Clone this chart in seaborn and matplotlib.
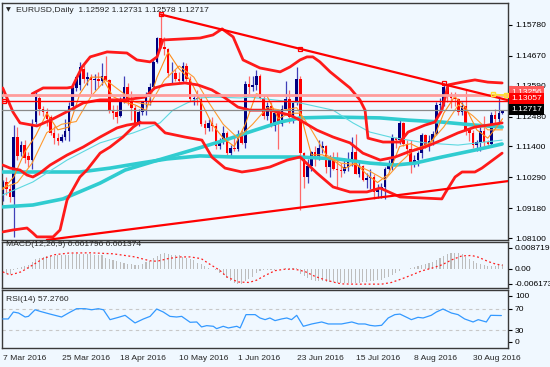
import matplotlib
matplotlib.use('Agg')
import matplotlib.pyplot as plt
import seaborn as sns

# bar 0 = 7 Mar 2016, one bar per trading day
tick_bars = [0, 16, 32, 48, 64, 80, 96, 112, 128]
tick_dates = ['7 Mar 2016', '25 Mar 2016', '18 Apr 2016', '10 May 2016', '1 Jun 2016',
              '23 Jun 2016', '15 Jul 2016', '8 Aug 2016', '30 Aug 2016']

opens = [1.0965, 1.1012, 1.0985, 1.0958, 1.1175, 1.1120, 1.1145, 1.1105, 1.1090, 1.1230,
         1.1315, 1.1275, 1.1265, 1.1245, 1.1190, 1.1170, 1.1160, 1.1175, 1.1195, 1.1285,
         1.1350, 1.1360, 1.1420, 1.1385, 1.1390, 1.1380, 1.1385, 1.1375, 1.1395, 1.1380,
         1.1270, 1.1265, 1.1250, 1.1305, 1.1355, 1.1300, 1.1280, 1.1225, 1.1265, 1.1300,
         1.1320, 1.1355, 1.1445, 1.1530, 1.1500, 1.1490, 1.1405, 1.1405, 1.1385, 1.1375,
         1.1430, 1.1385, 1.1310, 1.1315, 1.1312, 1.1220, 1.1205, 1.1225, 1.1215, 1.1140,
         1.1155, 1.1190, 1.1115, 1.1135, 1.1130, 1.1185, 1.1152, 1.1365, 1.1355, 1.1360,
         1.1395, 1.1315, 1.1250, 1.1285, 1.1215, 1.1260, 1.1220, 1.1275, 1.1310, 1.1245,
         1.1295, 1.1385, 1.1115, 1.1030, 1.1070, 1.1120, 1.1105, 1.1135, 1.1140, 1.1065,
         1.1095, 1.1060, 1.1055, 1.1052, 1.1065, 1.1090, 1.1120, 1.1040, 1.1070, 1.1020,
         1.1025, 1.1030, 1.0975, 1.0990, 1.0995, 1.1060, 1.1075, 1.1170, 1.1165, 1.1225,
         1.1150, 1.1130, 1.1085, 1.1090, 1.1115, 1.1180, 1.1140, 1.1160, 1.1185, 1.1290,
         1.1292, 1.1355, 1.1325, 1.1315, 1.1310, 1.1265, 1.1285, 1.1200, 1.1190, 1.1145,
         1.1155, 1.1195, 1.1155, 1.1150, 1.1255, 1.1240, 1.12592]
highs = [1.1020, 1.1030, 1.1005, 1.1218, 1.1210, 1.1160, 1.1165, 1.1120, 1.1240, 1.1345,
         1.1330, 1.1285, 1.1280, 1.1255, 1.1215, 1.1190, 1.1185, 1.1240, 1.1300, 1.1360,
         1.1395, 1.1445, 1.1440, 1.1410, 1.1400, 1.1400, 1.1410, 1.1440, 1.1465, 1.1385,
         1.1290, 1.1290, 1.1320, 1.1395, 1.1370, 1.1340, 1.1290, 1.1275, 1.1305, 1.1335,
         1.1370, 1.1455, 1.1535, 1.1616, 1.1535, 1.1495, 1.1445, 1.1420, 1.1410, 1.1445,
         1.1440, 1.1395, 1.1330, 1.1345, 1.1320, 1.1235, 1.1240, 1.1245, 1.1225, 1.1170,
         1.1215, 1.1195, 1.1145, 1.1175, 1.1200, 1.1200, 1.1375, 1.1395, 1.1395, 1.1416,
         1.1400, 1.1325, 1.1300, 1.1300, 1.1275, 1.1275, 1.1290, 1.1375, 1.1345, 1.1300,
         1.1428, 1.1395, 1.1120, 1.1095, 1.1125, 1.1140, 1.1165, 1.1160, 1.1145, 1.1110,
         1.1120, 1.1120, 1.1080, 1.1100, 1.1120, 1.1175, 1.1185, 1.1090, 1.1075, 1.1045,
         1.1060, 1.1040, 1.1005, 1.1010, 1.1065, 1.1090, 1.1185, 1.1175, 1.1235, 1.1230,
         1.1165, 1.1165, 1.1110, 1.1125, 1.1190, 1.1185, 1.1180, 1.1195, 1.1300, 1.1315,
         1.1368, 1.1365, 1.1335, 1.1335, 1.1315, 1.1300, 1.1342, 1.1205, 1.1200, 1.1165,
         1.1210, 1.1250, 1.1165, 1.1265, 1.1275, 1.1327, 1.12731]
lows = [1.0945, 1.0965, 1.0940, 1.0815, 1.1090, 1.1105, 1.1080, 1.1065, 1.1060, 1.1220,
        1.1255, 1.1250, 1.1215, 1.1180, 1.1150, 1.1145, 1.1155, 1.1165, 1.1160, 1.1270,
        1.1340, 1.1345, 1.1370, 1.1360, 1.1330, 1.1345, 1.1350, 1.1360, 1.1375, 1.1260,
        1.1240, 1.1225, 1.1245, 1.1295, 1.1290, 1.1235, 1.1215, 1.1215, 1.1255, 1.1255,
        1.1290, 1.1350, 1.1440, 1.1495, 1.1470, 1.1390, 1.1370, 1.1375, 1.1370, 1.1370,
        1.1375, 1.1305, 1.1290, 1.1290, 1.1215, 1.1185, 1.1195, 1.1195, 1.1130, 1.1130,
        1.1150, 1.1110, 1.1105, 1.1125, 1.1125, 1.1150, 1.1135, 1.1330, 1.1340, 1.1345,
        1.1310, 1.1240, 1.1235, 1.1210, 1.1195, 1.1130, 1.1215, 1.1270, 1.1225, 1.1225,
        1.1290, 1.0912, 1.0990, 1.1010, 1.1050, 1.1070, 1.1090, 1.1115, 1.1045, 1.1030,
        1.1055, 1.0995, 1.1030, 1.1045, 1.1050, 1.1070, 1.1040, 1.1030, 1.1015, 1.0990,
        1.0985, 1.0950, 1.0955, 1.0955, 1.0950, 1.1055, 1.1055, 1.1135, 1.1150, 1.1140,
        1.1110, 1.1045, 1.1065, 1.1070, 1.1100, 1.1135, 1.1125, 1.1145, 1.1180, 1.1260,
        1.1285, 1.1300, 1.1280, 1.1285, 1.1255, 1.1255, 1.1180, 1.1160, 1.1135, 1.1125,
        1.1125, 1.1140, 1.1135, 1.1145, 1.1215, 1.1220, 1.12578]
closes = [1.1012, 1.0985, 1.0958, 1.1175, 1.1105, 1.1145, 1.1100, 1.1090, 1.1220, 1.1320,
          1.1275, 1.1265, 1.1240, 1.1190, 1.1170, 1.1160, 1.1175, 1.1195, 1.1285, 1.1350,
          1.1390, 1.1425, 1.1385, 1.1392, 1.1380, 1.1385, 1.1375, 1.1395, 1.1380, 1.1270,
          1.1262, 1.1245, 1.1305, 1.1355, 1.1300, 1.1280, 1.1225, 1.1265, 1.1300, 1.1320,
          1.1355, 1.1445, 1.1530, 1.1500, 1.1490, 1.1405, 1.1405, 1.1385, 1.1375, 1.1430,
          1.1385, 1.1310, 1.1315, 1.1312, 1.1220, 1.1205, 1.1225, 1.1215, 1.1140, 1.1155,
          1.1190, 1.1115, 1.1135, 1.1130, 1.1185, 1.1152, 1.1365, 1.1355, 1.1360, 1.1395,
          1.1315, 1.1250, 1.1285, 1.1215, 1.1260, 1.1220, 1.1275, 1.1310, 1.1245, 1.1295,
          1.1385, 1.1115, 1.1030, 1.1070, 1.1120, 1.1105, 1.1135, 1.1140, 1.1065, 1.1095,
          1.1060, 1.1055, 1.1052, 1.1065, 1.1090, 1.1120, 1.1040, 1.1070, 1.1020, 1.1025,
          1.1030, 1.0975, 1.0990, 1.0995, 1.1060, 1.1075, 1.1170, 1.1165, 1.1225, 1.1150,
          1.1130, 1.1085, 1.1090, 1.1115, 1.1180, 1.1140, 1.1160, 1.1185, 1.1290, 1.1292,
          1.1355, 1.1325, 1.1315, 1.1310, 1.1265, 1.1285, 1.1200, 1.1190, 1.1145, 1.1155,
          1.1195, 1.1155, 1.1150, 1.1255, 1.1240, 1.1260, 1.12717]

# Bollinger style bands (thick red), traced as (bar, price)
upper_bars = [8, 11, 17.5, 18.9, 21.6, 23.8, 28.4, 33.8, 36.5, 40.1, 42.0, 43.6, 53.7, 57.2,
              59.7, 62.7, 65.4, 70.0, 75.5, 78.2, 80.9, 82.8, 84.4, 86.3, 89.1, 91.8, 94.5,
              97.2, 98.6, 99.4, 103.5, 108.1, 110.3, 114.9, 117.6, 119.5, 120.4, 121.2,
              125.0, 128.5, 132.0, 135.9]
upper_vals = [1.1330, 1.1351, 1.1351, 1.1354, 1.1427, 1.1463, 1.1481, 1.1477, 1.1452, 1.1445,
              1.1463, 1.1524, 1.1531, 1.1542, 1.1564, 1.1535, 1.1452, 1.1423, 1.1409, 1.1427,
              1.1452, 1.1463, 1.1463, 1.1445, 1.1409, 1.1380, 1.1351, 1.1308, 1.1271, 1.1170,
              1.1156, 1.1156, 1.1192, 1.1217, 1.1228, 1.1271, 1.1318, 1.1362, 1.1372, 1.1380,
              1.1372, 1.1369]
mid_bars = [0, 2.8, 4.7, 9.3, 13.0, 18.3, 21.9, 26.5, 33.3, 38.7, 41.4, 44.2, 49.6, 53.1,
            56.9, 60.5, 64.0, 67.3, 72.7, 78.2, 80.9, 85.5, 89.9, 94.5, 98.0, 102.7, 106.8,
            110.3, 114.9, 119.5, 123.9, 128.5, 132.0, 135.9]
mid_vals = [1.1351, 1.1264, 1.1225, 1.1214, 1.1235, 1.1271, 1.1297, 1.1308, 1.1308, 1.1318,
            1.1351, 1.1362, 1.1369, 1.1362, 1.1344, 1.1315, 1.1282, 1.1271, 1.1271, 1.1253,
            1.1235, 1.1199, 1.1174, 1.1153, 1.1116, 1.1091, 1.1102, 1.1120, 1.1138, 1.1163,
            1.1189, 1.1210, 1.1217, 1.1225]
lower_bars = [0, 2.0, 4.7, 6.6, 8.2, 10.1, 12.9, 17.5, 21.9, 26.5, 31.1, 33.8, 37.4, 41.4,
              44.2, 49.6, 54.2, 56.9, 60.5, 65.1, 68.7, 72.7, 77.4, 80.9, 85.5, 89.9, 94.5,
              99.1, 102.7, 108.1, 119.5, 120.4, 123.1, 125.0, 128.5, 130.4, 135.9]
lower_vals = [1.1073, 1.1062, 1.1055, 1.1037, 1.1030, 1.1044, 1.1073, 1.1109, 1.1138, 1.1174,
              1.1207, 1.1217, 1.1225, 1.1225, 1.1189, 1.1174, 1.1163, 1.1102, 1.1062, 1.1048,
              1.1055, 1.1066, 1.1091, 1.1102, 1.1044, 1.0994, 1.0976, 1.0976, 1.0990, 1.0958,
              1.0951, 1.0972, 1.1030, 1.1048, 1.1048, 1.1062, 1.1116]
low2_bars = [0, 2.8, 6.6, 8.2, 9.3, 13.7, 15.6, 17.5, 21.0, 22.9, 26.5, 29.2, 32.7, 35.5, 37.4]
low2_vals = [1.0832, 1.0839, 1.0846, 1.0828, 1.0814, 1.0814, 1.0839, 1.0947, 1.1030, 1.1055,
             1.1116, 1.1138, 1.1174, 1.1210, 1.1228]

# moving averages
ma_long_bars = [0, 21.0, 29.2, 37.4, 44.7, 53.7, 62.7, 75.5, 80.9, 91.0, 99.9, 106.8, 112.2,
                119.5, 128.5, 135.9]
ma_long_vals = [1.1048, 1.1048, 1.1062, 1.1080, 1.1095, 1.1106, 1.1102, 1.1102, 1.1102, 1.1095,
                1.1080, 1.1073, 1.1080, 1.1102, 1.1127, 1.1149]
ma_mid_bars = [0, 8.2, 16.4, 26.5, 33.3, 42.3, 51.5, 60.5, 68.7, 75.5, 80.9, 89.9, 102.7,
               110.3, 119.5, 128.5, 135.9]
ma_mid_vals = [1.0922, 1.0929, 1.0951, 1.1008, 1.1055, 1.1091, 1.1127, 1.1163, 1.1199, 1.1228,
               1.1243, 1.1246, 1.1243, 1.1235, 1.1228, 1.1217, 1.1210]
ma_thin_bars = [0, 8.2, 17.5, 26.5, 35.5, 42.8, 46.3, 50.2, 53.7, 57.2, 64.6, 67.3, 80.9, 89.9,
                95.3, 99.9, 105.4, 114.9, 123.9, 135.9]
ma_thin_vals = [1.0965, 1.1012, 1.1091, 1.1153, 1.1189, 1.1225, 1.1271, 1.1297, 1.1315, 1.1318,
                1.1315, 1.1318, 1.1297, 1.1271, 1.1225, 1.1192, 1.1174, 1.1153, 1.1145, 1.1163]
fast_bars = [0, 3, 6, 9, 12, 15, 18, 21, 24, 27, 30, 33, 36, 39, 42, 45, 48, 51, 54, 57, 60,
             63, 66, 69, 72, 75, 78, 81, 84, 87, 90, 93, 96, 99, 102, 105, 108, 111, 114, 117,
             120, 123, 126, 129, 132, 135, 136]
fast_vals = [1.0985, 1.1030, 1.1120, 1.1180, 1.1260, 1.1200, 1.1210, 1.1330, 1.1390, 1.1390,
             1.1320, 1.1300, 1.1290, 1.1270, 1.1390, 1.1480, 1.1420, 1.1380, 1.1300, 1.1220,
             1.1170, 1.1140, 1.1220, 1.1330, 1.1320, 1.1240, 1.1260, 1.1260, 1.1110, 1.1110,
             1.1090, 1.1060, 1.1080, 1.1040, 1.1010, 1.1040, 1.1140, 1.1150, 1.1130, 1.1160,
             1.1260, 1.1320, 1.1280, 1.1200, 1.1170, 1.1220, 1.1240]
slow_bars = [0, 4, 8, 12, 16, 20, 24, 28, 32, 36, 40, 44, 48, 52, 56, 60, 64, 68, 72, 76, 80,
             84, 88, 92, 96, 100, 104, 108, 112, 116, 120, 124, 128, 132, 136]
slow_vals = [1.0990, 1.1010, 1.1080, 1.1190, 1.1220, 1.1230, 1.1320, 1.1380, 1.1340, 1.1300,
             1.1290, 1.1380, 1.1430, 1.1390, 1.1300, 1.1220, 1.1170, 1.1220, 1.1280, 1.1270,
             1.1280, 1.1200, 1.1110, 1.1080, 1.1075, 1.1050, 1.1020, 1.1080, 1.1130, 1.1150,
             1.1210, 1.1290, 1.1250, 1.1200, 1.1200]

# trend lines and levels
down_line_bars = [43, 137.5]
down_line_vals = [1.1616, 1.1307]
down_marks_bars = [43, 81, 120]
down_marks_vals = [1.1616, 1.1493, 1.1368]
up_line_bars = [12, 138]
up_line_vals = [1.0803, 1.1016]
level_pink = 1.13256
level_red = 1.13057
level_bid = 1.12717

# MACD(12,26,9): main (histogram, x1e-3) and signal
macd_main = [-1.9, -2.2, -2.3, -0.6, 0.3, 0.8, 1.3, 1.7, 2.9, 4.0, 4.6, 5.0, 5.3, 5.4, 5.4,
             5.5, 5.5, 5.6, 5.8, 6.0, 6.1, 6.2, 6.1, 6.0, 6.0, 5.9, 5.8, 5.6, 4.6, 4.0, 3.6,
             3.3, 2.6, 2.4, 2.0, 1.8, 1.6, 1.7, 1.9, 2.6, 3.4, 4.4, 5.2, 6.2, 6.4, 6.2, 5.9,
             5.7, 5.6, 5.0, 4.6, 4.0, 3.6, 2.5, 1.8, 1.0, 0.4, 0.0, -0.4, -1.8, -2.8, -3.8,
             -5.0, -6.0, -6.4, -6.2, -5.0, -4.4, -3.5, -1.6, -0.8, -0.5, -0.4, -0.6, -0.4,
             -0.3, -0.2, 0.1, 0.2, 0.5, 0.2, -2.0, -3.2, -3.9, -4.6, -5.0, -5.3, -5.3, -5.5,
             -5.6, -5.7, -5.8, -5.9, -5.9, -5.8, -5.9, -5.9, -5.8, -5.6, -5.4, -5.3, -5.2,
             -4.8, -4.5, -4.0, -3.4, -2.6, -1.8, -1.0, -0.3, 0.0, 0.2, 0.6, 1.0, 1.4, 1.9,
             2.3, 2.8, 3.7, 4.6, 5.4, 6.2, 6.5, 6.6, 6.4, 6.0, 5.0, 4.0, 3.2, 2.3, 1.8, 1.5,
             1.2, 1.1, 1.3, 1.6, 1.8]
signal_bars = [0, 2, 5, 8, 11, 14, 18, 24, 30, 36, 40, 42, 45, 48, 51, 54, 56, 59, 61, 64, 67,
               69, 71.4, 74.1, 76.8, 79.5, 82.3, 85, 87.7, 90.4, 92.2, 95.9, 99.5, 103.1,
               105.8, 108.6, 111.3, 114, 116.7, 119.5, 122.2, 124.9, 127.6, 129.4, 132.1, 134,
               136]
signal_vals = [-1.3, -2.6, -1.3, 1.4, 4.2, 5.8, 6.5, 6.6, 6.2, 4.9, 3.3, 3.1, 4.2, 4.9, 4.9,
               4.2, 2.2, -0.6, -3.4, -5.5, -5.7, -4.8, -2.8, -0.8, -0.2, -0.2, -1.2, -3.2,
               -4.6, -5.7, -6.3, -6.4, -6.4, -6.4, -5.7, -4.2, -2.6, -0.9, 0.2, 1.6, 3.7, 5.3,
               5.5, 4.8, 3.0, 2.0, 1.4]

# RSI(14)
rsi_bars = [0, 1.5, 2.9, 4.3, 6.1, 7.0, 8.8, 10.2, 12.9, 16.0, 17.9, 20.1, 22.4, 24.2, 26.0,
            27.4, 29.2, 31.5, 33.3, 36.0, 38.3, 40.1, 41.9, 43.7, 45.5, 47.3, 48.7, 51.0, 52.8,
            54.1, 55.5, 57.3, 58.2, 60.0, 61.4, 63.7, 64.6, 66.2, 68.7, 70.0, 71.4, 72.7, 74.1,
            75.9, 77.3, 78.6, 80.0, 81.8, 84.1, 86.8, 88.6, 92.2, 95.0, 96.8, 98.6, 99.9,
            101.3, 103.1, 104.9, 106.7, 108.1, 110.3, 111.2, 113.0, 114.4, 116.6, 118.0,
            119.8, 122.1, 123.9, 125.7, 128.0, 129.4, 131.6, 132.8, 135.7]
rsi_vals = [51, 51, 63.8, 62, 54.6, 55.8, 68, 65, 60, 54.6, 62, 70, 70, 68, 70, 68, 49.7, 54,
            57.7, 43.6, 51, 55.8, 69.4, 63.8, 55.8, 54.6, 55.8, 44.8, 45.4, 36.2, 38.6, 37.4,
            33, 37.4, 34.3, 37.4, 34.3, 59, 59, 52.8, 49.7, 52.8, 47.9, 51, 52.8, 49.7, 57.7,
            37.4, 41.7, 45.4, 41.7, 41.7, 45.4, 41.7, 41.7, 39.2, 38, 39.2, 52.8, 59, 60,
            52.8, 49.7, 54, 52.8, 57.7, 63.8, 69.4, 62, 59, 51, 45.4, 49.7, 45.4, 57.7, 57.3]

price_ticks = [1.15780, 1.14670, 1.13590, 1.12480, 1.11400, 1.10290, 1.09180, 1.08100]
macd_ticks = [0.008719, 0.0, -0.006173]
macd_tick_text = ['0.008719', '0.00', '-0.006173']
rsi_tick_pos = [93.5, 70, 30, 8.5]   # MT4 pulls the 100 / 0 labels inside the window
rsi_tick_text = ['100', '70', '30', '0']

BG = '#F0F8FF'
sns.set_style('white', {'axes.facecolor': BG, 'figure.facecolor': BG})
plt.rcParams['font.family'] = ['Liberation Sans', 'DejaVu Sans']
FS = 6.1

W, H = 550, 367
fig = plt.figure(figsize=(W / 100, H / 100), dpi=100)


def box(top, bottom):
    return [2 / W, 1 - bottom / H, 506 / W, (bottom - top) / H]


ax = fig.add_axes(box(3, 240))
axm = fig.add_axes(box(241.5, 288))
axr = fig.add_axes(box(290, 348))

nbar = len(closes)
bars = list(range(nbar))
for a in (ax, axm, axr):
    a.set_facecolor(BG)
    a.set_xlim(-0.2, 137.5)
    for s in a.spines.values():
        s.set_color('#3a3a3a')
        s.set_linewidth(1.0)
    a.yaxis.tick_right()
    a.tick_params(axis='y', length=3, width=0.8, pad=2, labelsize=FS, colors='#000000',
                  direction='out')

# candles
is_up = [c >= o for o, c in zip(opens, closes)]
wick_cols = ['#4040B8' if u else '#FF6A6A' for u in is_up]
body_cols = ['#000080' if u else '#FF0000' for u in is_up]
ax.vlines(bars, lows, highs, colors=wick_cols, linewidth=0.9, zorder=2)
body_h = [max(abs(c - o), 0.00014) for o, c in zip(opens, closes)]
body_b = [min(o, c) for o, c in zip(opens, closes)]
ax.bar(bars, body_h, bottom=body_b, width=0.7, color=body_cols, linewidth=0, zorder=2)


def line(a, xs, ys, **kw):
    sns.lineplot(x=xs, y=ys, ax=a, sort=False, estimator=None, legend=False, **kw)


# moving averages
line(ax, ma_long_bars, ma_long_vals, color='#30CCD0', linewidth=2.6, zorder=3)
line(ax, ma_mid_bars, ma_mid_vals, color='#30CCD0', linewidth=2.6, zorder=3)
line(ax, ma_thin_bars, ma_thin_vals, color='#5ED8E0', linewidth=0.8, zorder=3)
line(ax, slow_bars, slow_vals, color='#FF9A30', linewidth=0.8, zorder=3)
line(ax, fast_bars, fast_vals, color='#FF8C1A', linewidth=0.8, zorder=3)

# bands
for xs, ys in ((upper_bars, upper_vals), (mid_bars, mid_vals),
               (lower_bars, lower_vals), (low2_bars, low2_vals)):
    line(ax, xs, ys, color='#FF1A1A', linewidth=2.0, zorder=4)

# levels and trend lines
ax.axhline(level_pink, color='#FF9C9C', linewidth=2.0, zorder=4)
ax.axhline(level_red, color='#FF0000', linewidth=1.0, zorder=4)
ax.axhline(level_bid, color='#8A8A8A', linewidth=0.9, zorder=4)
line(ax, down_line_bars, down_line_vals, color='#FF0000', linewidth=1.6, zorder=5)
line(ax, up_line_bars, up_line_vals, color='#FF0000', linewidth=1.6, zorder=5)
ax.plot(down_marks_bars, down_marks_vals, 's', ms=3.5, mfc='none', mec='#FF0000', mew=0.9,
        zorder=6)
ax.plot([0.3], [level_red], 's', ms=3.5, mfc='none', mec='#FF0000', mew=0.9, zorder=6)
ax.plot([133.5, 137], [level_pink + 0.0002, level_pink - 0.0001], '-s', color='#FFE030',
        ms=3, mfc='none', lw=1.2, zorder=6)

ax.set_ylim(1.08028, 1.16573)
ax.set_yticks(price_ticks)
ax.set_yticklabels(['%.5f' % p for p in price_ticks])
ax.set_xticks([])

fig.text(6 / W, 1 - 10 / H, '\u25BC', fontsize=4.5, va='center', ha='left',
         family=['DejaVu Sans'])
fig.text(16 / W, 1 - 10 / H, 'EURUSD,Daily  1.12592 1.12731 1.12578 1.12717', fontsize=FS,
         va='center', ha='left')

# price labels on the right scale
for yy, txt, fc in ((92, '1.13256', '#FF5A5A'), (98.5, '1.13057', '#FF0000'),
                    (109.8, '1.12717', '#000000')):
    fig.text(511 / W, 1 - yy / H, txt, fontsize=FS, color='white', va='center', ha='left',
             bbox=dict(boxstyle='square,pad=0.25', fc=fc, ec='none'))

# MACD
axm.bar(bars, [v * 1e-3 for v in macd_main], width=0.3, color='#BDBDBD', linewidth=0,
        zorder=2)
line(axm, signal_bars, [v * 1e-3 for v in signal_vals], color='#FF2020', linewidth=0.9,
     linestyle=(0, (1.5, 2.0)), zorder=3)
axm.set_ylim(-0.0080, 0.0113)
axm.set_yticks(macd_ticks)
axm.set_yticklabels(macd_tick_text)
axm.tick_params(axis='y', pad=1.5)
axm.set_xticks([])
axm.text(1.0, 0.0102, 'MACD(12,26,9) 0.001796 0.001374', fontsize=FS, va='center', ha='left')

# RSI
for lv in (70, 30):
    axr.axhline(lv, color='#C8C8C8', linewidth=0.8, linestyle=(0, (3, 3)), zorder=1)
line(axr, rsi_bars, rsi_vals, color='#3399FF', linewidth=0.9, zorder=3)
axr.set_ylim(-2.8, 104.6)
axr.set_yticks(rsi_tick_pos)
axr.set_yticklabels(rsi_tick_text)
axr.text(1.0, 86.5, 'RSI(14) 57.2760', fontsize=FS, va='center', ha='left')
axr.set_xticks(tick_bars)
axr.set_xticklabels(tick_dates, ha='left')
axr.tick_params(axis='x', length=3, width=0.8, pad=2, labelsize=FS, direction='out')

for a in (ax, axm, axr):
    a.set_xlabel('')
    a.set_ylabel('')

fig.savefig('out.png', dpi=100, facecolor=BG)
